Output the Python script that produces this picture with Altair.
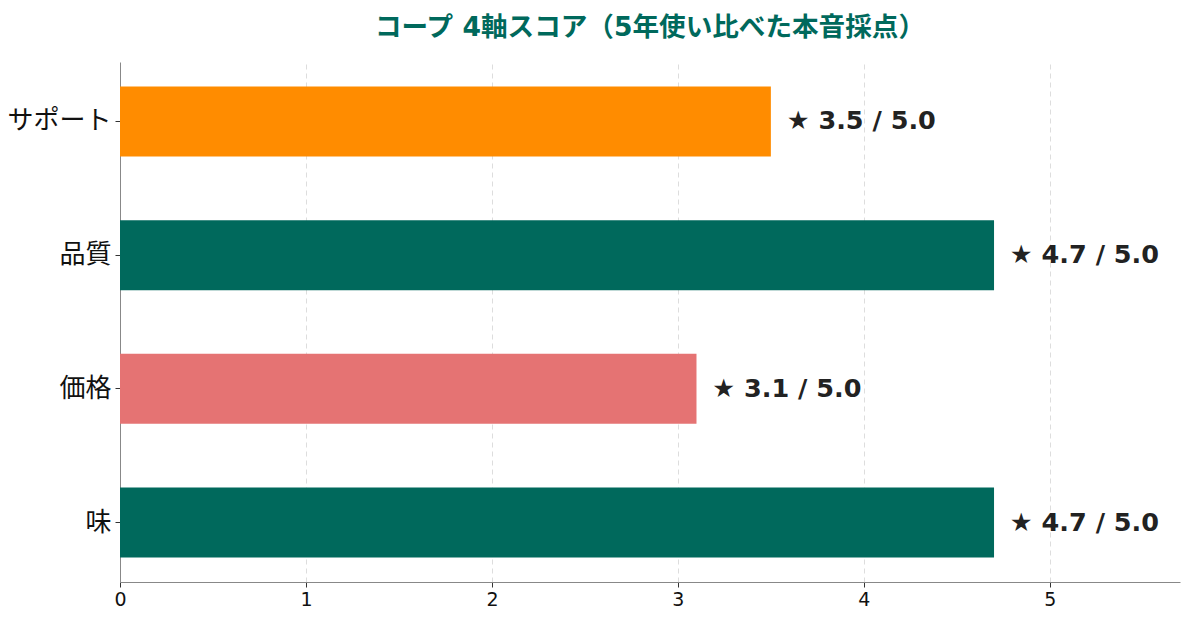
import altair as alt
import pandas as pd

categories = ["サポート", "品質", "価格", "味"]
scores = [3.5, 4.7, 3.1, 4.7]
colors = ["#FF8C00", "#00695C", "#E57373", "#00695C"]
labels = ["★ 3.5 / 5.0", "★ 4.7 / 5.0", "★ 3.1 / 5.0", "★ 4.7 / 5.0"]
x_ticks = [0, 1, 2, 3, 4, 5]

df = pd.DataFrame({"cat": categories, "score": scores, "color": colors, "label": labels})
df["label_x"] = df["score"] + 0.085

FONT = "DejaVu Sans, Noto Sans CJK JP"

y_axis = alt.Axis(labelFontSize=26, labelPadding=4, grid=False)
x_axis = alt.Axis(values=x_ticks, format="d", labelFontSize=19, labelFlush=False,
                  grid=True, gridDash=[5, 4], gridColor="#dddddd", labelPadding=3)
y_scale = alt.Scale(paddingInner=0.476, paddingOuter=0.183)
x_scale = alt.Scale(domain=[0, 5.7], nice=False, zero=True)

bars = alt.Chart(df).mark_bar().encode(
    x=alt.X("score:Q", title=None, scale=x_scale, axis=x_axis),
    y=alt.Y("cat:N", sort=categories, title=None, scale=y_scale, axis=y_axis),
    color=alt.Color("color:N", scale=None),
)

text = alt.Chart(df).mark_text(align="left", baseline="middle", fontSize=25.5,
                               fontWeight="bold", color="#222222", font=FONT).encode(
    x=alt.X("label_x:Q", title=None, scale=x_scale, axis=x_axis),
    y=alt.Y("cat:N", sort=categories, title=None, scale=y_scale, axis=y_axis),
    text="label:N",
)

chart = (bars + text).properties(
    width=1060, height=520,
    title=alt.TitleParams("コープ 4軸スコア（5年使い比べた本音採点）", fontSize=26.6,
                          fontWeight="bold", color="#00695C", font=FONT,
                          anchor="middle", offset=20),
    autosize=alt.AutoSizeParams(type="none"),
    padding={"left": 120, "top": 62, "right": 9, "bottom": 38},
).configure(background="white").configure_view(stroke=None).configure_axis(
    labelFont=FONT, labelColor="#111", domainColor="#888", tickColor="#333", tickSize=5,
).configure_axisY(labelFontSize=26).configure_axisX(labelFontSize=19)

chart.save("out.html", embed_options={"renderer": "svg", "actions": False})
